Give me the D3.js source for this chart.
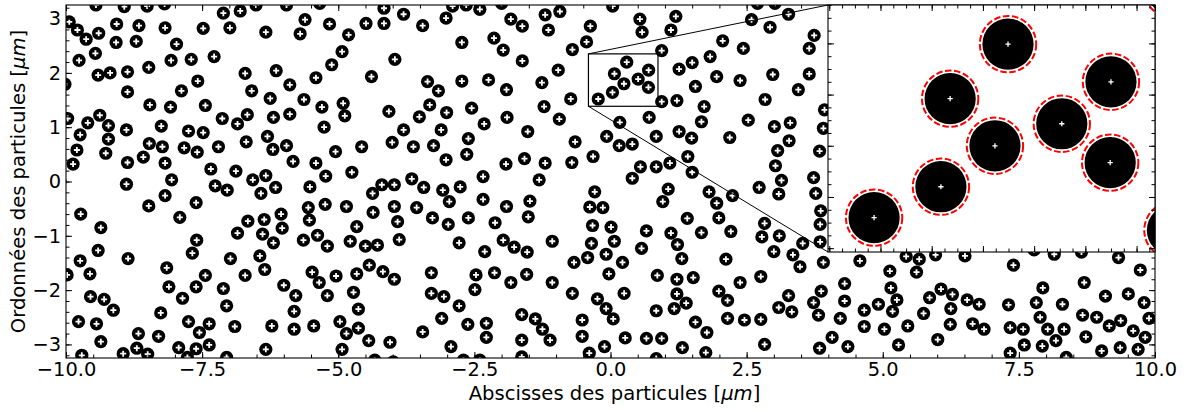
<!DOCTYPE html>
<html>
<head>
<meta charset="utf-8">
<script src="https://cdn.jsdelivr.net/npm/d3@7"></script>
<style>
  body{margin:0;background:#fff;}
  text{font-family:"DejaVu Sans",sans-serif;}
</style>
</head>
<body>
<div id="chart"></div>
<script>
// particle centres [x, y] in µm
const particles = [
 [-9.45,3.25],[-8.93,3.22],[-8.51,3.23],[-8.19,3.27],[-7.11,3.10],[-6.80,3.14],[-9.94,2.94],[-9.79,2.79],
 [-9.63,2.62],[-9.40,2.73],[-9.07,2.90],[-8.66,2.87],[-8.18,2.83],[-7.48,2.82],[-6.99,2.83],[-9.08,2.56],
 [-8.71,2.58],[-7.97,2.53],[-9.46,2.36],[-9.76,2.23],[-8.07,2.23],[-7.70,2.25],[-7.28,2.30],[-10.02,1.79],
 [-9.41,1.96],[-9.19,2.00],[-8.87,2.02],[-8.48,2.10],[-7.58,1.85],[-8.87,1.65],[-7.88,1.67],[-8.46,1.41],
 [-8.08,1.37],[-7.44,1.40],[-9.97,1.16],[-9.38,1.22],[-9.60,1.08],[-9.22,1.03],[-9.74,0.86],[-8.89,0.95],
 [-8.25,1.02],[-7.75,0.93],[-7.48,0.90],[-7.13,1.16],[-6.85,1.06],[-9.22,0.78],[-9.80,0.58],[-9.27,0.52],
 [-8.47,0.70],[-8.23,0.64],[-7.83,0.62],[-7.59,0.54],[-7.20,0.64],[-9.87,0.32],[-8.87,0.35],[-8.58,0.45],
 [-8.18,0.34],[-7.34,0.23],[-6.88,0.19],
 [-6.51,3.25],[-5.95,3.25],[-5.34,3.28],[-4.16,3.19],[-3.80,3.08],[-5.61,2.98],[-5.16,2.90],[-4.49,2.91],
 [-4.16,2.91],[-6.33,2.75],[-5.70,2.72],[-4.81,2.70],[-4.93,2.39],[-3.96,2.25],[-5.12,2.15],[-6.71,1.99],
 [-6.14,2.04],[-5.41,1.91],[-4.39,1.93],[-6.59,1.67],[-5.89,1.78],[-6.25,1.53],[-5.63,1.51],[-5.30,1.37],
 [-4.91,1.44],[-4.88,1.21],[-4.07,1.29],[-3.51,1.19],[-6.67,1.23],[-6.19,1.18],[-5.89,1.24],[-5.26,1.00],
 [-3.80,0.95],[-6.69,0.73],[-6.30,0.83],[-6.20,0.59],[-5.95,0.66],[-5.05,0.55],[-4.57,0.64],[-4.01,0.72],
 [-3.62,0.64],[-5.83,0.37],[-5.41,0.34],[-6.33,0.11],[-5.23,0.10],[-4.75,0.17],[-3.65,0.05],
 [-2.90,3.23],[-2.65,3.25],[-2.40,3.17],[-2.00,3.28],[-3.02,3.01],[-3.45,2.87],[-1.83,2.99],[-1.62,2.86],
 [-1.20,3.07],[-0.93,3.13],[-1.14,2.79],[-0.37,2.86],[-2.73,2.56],[-2.14,2.64],[-1.97,2.42],[-1.62,2.22],
 [-0.70,2.43],[-0.44,2.57],[-0.96,2.05],[-3.36,1.84],[-3.16,1.67],[-2.73,1.85],[-2.24,1.87],[-1.91,1.69],
 [-1.26,1.82],[-3.32,1.41],[-3.01,1.27],[-2.55,1.35],[-1.90,1.18],[-2.32,1.06],[-1.22,1.38],[-0.73,1.52],
 [-0.94,1.15],[-3.11,0.95],[-3.25,0.66],[-2.61,0.79],[-1.52,0.92],[-0.65,0.73],[-3.02,0.40],[-2.64,0.50],
 [-1.92,0.32],[-1.58,0.42],[-1.20,0.34],[-0.71,0.35],[-0.32,0.46],[-2.34,0.09],[-1.31,0.03],
 [0.298,2.197],[0.072,1.984],[0.247,1.800],[0.508,1.886],[0.700,2.050],[0.697,1.734],[0.036,1.640],[-0.225,1.519],
 [0.04,3.23],[0.54,2.99],[1.20,3.04],[0.58,2.75],[1.11,2.79],[2.59,2.98],[2.93,2.84],[2.70,3.28],
 [3.02,3.28],[0.94,2.41],[2.06,2.59],[2.44,2.45],[1.50,2.19],[1.83,2.30],[1.26,2.07],[1.95,1.93],
 [2.38,1.86],[2.98,1.97],[1.56,1.75],[0.94,1.47],[1.22,1.49],[2.84,1.51],[1.72,1.38],[0.71,1.18],
 [0.17,1.09],[1.67,1.10],[2.53,1.13],[3.01,1.01],[-0.07,0.83],[0.16,0.66],[0.40,0.69],[0.84,0.83],
 [1.26,0.92],[1.49,0.80],[2.19,0.81],[3.07,0.57],[1.42,0.46],[0.55,0.27],[0.84,0.27],[1.09,0.34],
 [0.40,0.06],[1.50,0.17],[3.03,0.29],
 [3.27,3.08],[3.74,2.69],[3.65,2.45],[3.65,1.98],[3.45,1.69],[3.93,1.32],[3.91,0.98],[3.30,1.08],
 [3.28,0.75],[3.84,0.56],[3.73,0.07],
 [-10.11,0.00],[-8.89,-0.05],[-8.06,0.03],[-7.26,-0.08],[-7.04,-0.16],[-9.73,-0.60],[-8.48,-0.45],[-8.18,-0.26],
 [-7.61,-0.39],[-7.91,-0.66],[-9.36,-0.85],[-6.85,-0.95],[-7.60,-1.08],[-9.41,-1.27],[-9.74,-1.46],[-8.86,-1.42],
 [-7.68,-1.32],[-6.98,-1.42],[-9.98,-1.72],[-9.56,-1.70],[-8.15,-1.59],[-7.44,-1.73],[-8.11,-1.94],[-7.61,-1.94],
 [-7.11,-1.97],[-9.55,-2.12],[-9.30,-2.17],[-9.13,-2.37],[-7.86,-2.15],[-7.05,-2.29],[-8.26,-2.42],[-9.77,-2.58],
 [-9.44,-2.62],[-7.75,-2.58],[-7.37,-2.62],[-6.90,-2.67],[-7.55,-2.78],[-10.11,-2.84],[-9.36,-2.95],[-8.67,-2.80],
 [-8.30,-2.85],[-7.37,-3.01],[-9.71,-3.20],[-8.95,-3.17],[-8.70,-3.07],[-8.50,-3.18],[-7.93,-3.06],[-7.61,-3.08],
 [-7.77,-3.24],[-7.05,-3.24],
 [-6.57,0.03],[-6.42,-0.22],[-6.15,-0.11],[-5.52,-0.10],[-4.20,-0.06],[-3.97,-0.06],[-4.37,-0.22],[-5.55,-0.48],
 [-5.24,-0.42],[-4.85,-0.46],[-4.36,-0.57],[-3.97,-0.46],[-3.56,-0.48],[-6.66,-0.73],[-6.36,-0.70],[-6.05,-0.60],
 [-6.39,-0.97],[-6.03,-0.86],[-5.53,-0.71],[-4.66,-0.83],[-3.91,-0.74],[-6.19,-1.13],[-5.64,-1.08],[-5.38,-0.99],
 [-5.20,-1.19],[-4.78,-1.10],[-4.50,-1.19],[-4.28,-1.17],[-3.88,-1.07],[-6.44,-1.37],[-6.35,-1.62],[-6.71,-1.73],
 [-5.48,-1.67],[-5.35,-1.86],[-5.04,-1.74],[-4.66,-1.70],[-4.43,-1.54],[-4.18,-1.66],[-3.97,-1.80],[-6.00,-1.91],
 [-5.78,-2.10],[-5.20,-2.10],[-4.72,-2.04],[-5.81,-2.39],[-4.63,-2.35],[-6.22,-2.66],[-5.81,-2.72],[-5.45,-2.66],
 [-4.97,-2.58],[-4.85,-2.80],[-4.63,-2.70],[-4.44,-2.93],[-4.05,-2.96],[-6.33,-3.09],[-4.93,-3.09],[-4.33,-3.29],
 [-3.99,-3.32],
 [-3.43,-0.11],[-3.08,-0.16],[-2.76,-0.10],[-0.29,-0.19],[-2.96,-0.37],[-2.34,-0.33],[-1.91,-0.46],[-1.48,-0.36],
 [-1.51,-0.65],[-0.38,-0.47],[-3.27,-0.67],[-2.98,-0.79],[-2.61,-0.67],[-2.12,-0.76],[-0.33,-0.81],[-2.78,-1.13],
 [-2.31,-1.29],[-1.97,-1.08],[-1.77,-1.21],[-1.53,-1.30],[-1.07,-1.10],[-0.35,-1.14],[-0.67,-1.49],[-0.42,-1.40],
 [-3.29,-1.68],[-2.47,-1.72],[-2.13,-1.68],[-1.54,-1.71],[-1.83,-1.86],[-1.07,-1.86],[-3.29,-2.06],[-3.06,-2.12],
 [-2.49,-1.99],[-2.78,-2.29],[-0.70,-2.06],[-0.24,-2.16],[-3.10,-2.52],[-2.62,-2.63],[-2.28,-2.61],[-1.63,-2.45],
 [-1.38,-2.53],[-1.25,-2.72],[-0.52,-2.55],[-3.45,-2.77],[-2.28,-2.87],[-1.63,-2.92],[-1.11,-2.92],[-0.52,-2.85],
 [-2.93,-3.04],[-2.70,-3.29],[-2.40,-3.29],[-1.63,-3.23],[-0.39,-3.16],
 [-0.14,-0.48],[1.06,-0.14],[0.96,-0.37],[1.81,-0.19],[1.95,-0.40],[2.24,-0.26],[2.73,-0.11],[3.09,-0.23],
 [0.01,-0.84],[0.07,-1.10],[0.66,-0.91],[1.41,-0.68],[1.11,-0.95],[1.23,-1.16],[1.67,-0.94],[1.99,-0.67],
 [2.21,-0.92],[2.83,-0.77],[2.78,-1.02],[3.10,-1.00],[-0.08,-1.34],[0.22,-1.49],[0.57,-1.23],[1.31,-1.42],
 [2.12,-1.43],[3.00,-1.29],[-0.03,-1.70],[0.86,-1.73],[1.22,-1.80],[1.52,-1.77],[2.38,-1.86],[2.76,-1.75],
 [0.25,-2.06],[-0.08,-2.34],[0.05,-2.53],[0.84,-2.38],[1.17,-2.34],[1.22,-2.07],[1.39,-2.24],[1.99,-2.02],
 [2.15,-2.19],[3.09,-2.32],[1.56,-2.59],[1.77,-2.78],[2.15,-2.52],[2.46,-2.55],[2.76,-2.54],[-0.11,-3.04],
 [0.27,-2.88],[0.66,-2.89],[0.94,-2.89],[1.32,-3.06],[1.75,-3.15],[2.83,-3.00],[0.84,-3.26],
 [3.14,0.02],[3.77,-0.22],[3.86,-0.54],[3.85,-0.79],[3.85,-1.11],[3.53,-1.14],[3.35,-1.35],[3.48,-1.57],
 [3.91,-1.49],[4.58,-1.46],[5.43,-1.38],[5.67,-1.43],[5.97,-1.35],[6.51,-1.37],[5.13,-1.65],[5.62,-1.67],
 [4.30,-1.88],[3.87,-2.02],[3.27,-2.10],[3.73,-2.23],[4.30,-2.20],[3.33,-2.40],[3.82,-2.46],[4.22,-2.52],
 [4.66,-2.37],[4.92,-2.26],[5.15,-1.96],[5.26,-2.18],[5.18,-2.39],[5.86,-2.14],[6.07,-1.98],[6.28,-2.08],
 [6.25,-2.34],[5.75,-2.43],[4.66,-2.67],[5.03,-2.72],[5.46,-2.66],[6.24,-2.63],[4.07,-2.87],[3.84,-3.07],
 [4.36,-3.04],[5.29,-3.01],[6.01,-2.91],
 [7.40,-1.54],[7.78,-1.26],[8.15,-1.34],[8.65,-1.30],[9.33,-1.40],[9.73,-1.63],[7.94,-1.96],[8.70,-1.86],
 [6.55,-2.18],[6.77,-2.26],[7.31,-2.27],[7.82,-2.23],[8.30,-2.26],[9.09,-2.11],[9.51,-2.07],[9.80,-2.23],
 [6.65,-2.62],[6.86,-2.72],[7.34,-2.69],[7.58,-2.72],[7.89,-2.50],[8.03,-2.72],[8.33,-2.72],[8.67,-2.46],
 [8.93,-2.50],[9.16,-2.66],[9.37,-2.56],[9.60,-2.75],[9.89,-2.52],[9.82,-2.87],[8.18,-2.93],[7.60,-3.01],
 [7.93,-3.03],[8.73,-2.86],[9.02,-3.12],[9.36,-3.06],[9.69,-3.09],[7.34,-3.16],[8.37,-3.24]
];

const xLim = [-10, 10];
const yLim = [-3.25, 3.25];
const xTicks = [-10, -7.5, -5, -2.5, 0, 2.5, 5, 7.5, 10];
const yTicks = [-3, -2, -1, 0, 1, 2, 3];
// zoomed window shown in the inset
const zoomX = [-0.405, 0.872];
const zoomY = [1.385, 2.35];
const zoomTicks = [-0.4, -0.2, 0, 0.2, 0.4, 0.6, 0.8];
const zoomYTicks = [1.4, 1.6, 1.8, 2.0, 2.2];
const radius = 0.1;      // particle radius, µm
const rOutline = 0.11;   // dashed outline radius, µm

const W = 1184, H = 412;
const box = {l: 66, r: 1155, t: 5, b: 358};
const ibox = {l: 828, r: 1155, t: 5, b: 252};

const svg = d3.select("#chart").append("svg").attr("width", W).attr("height", H);
const defs = svg.append("defs");
defs.append("clipPath").attr("id", "clipMain").append("rect")
    .attr("x", box.l).attr("y", box.t).attr("width", box.r - box.l).attr("height", box.b - box.t);
defs.append("clipPath").attr("id", "clipInset").append("rect")
    .attr("x", ibox.l).attr("y", ibox.t).attr("width", ibox.r - ibox.l).attr("height", ibox.b - ibox.t);

const x = d3.scaleLinear().domain(xLim).range([box.l, box.r]);
const y = d3.scaleLinear().domain(yLim).range([box.b, box.t]);

// particles in the main axes
const gMain = svg.append("g").attr("clip-path", "url(#clipMain)");
gMain.selectAll("circle").data(particles).join("circle")
    .attr("cx", d => x(d[0])).attr("cy", d => y(d[1])).attr("r", 6.6).attr("fill", "black");
gMain.selectAll("path").data(particles).join("path")
    .attr("d", d => "M" + (x(d[0]) - 3) + "," + y(d[1]) + "h6M" + x(d[0]) + "," + (y(d[1]) - 3) + "v6")
    .attr("stroke", "white").attr("stroke-width", 1.8);

// ticks pointing inward on the four sides
function frameTicks(g, sx, sy, b, major, minor, yMajor, yMinor, labels) {
    const L = 6, l = 3.5;
    const add = (axis, tr) => {
        const a = g.append("g").attr("transform", tr).call(axis);
        a.select(".domain").remove();
        return a;
    };
    const fmtX = labels ? d3.format(".1f") : () => "";
    const fmtY = labels ? d3.format("d") : () => "";
    add(d3.axisBottom(sx).tickValues(minor).tickSize(-l).tickFormat(""), "translate(0," + b.b + ")");
    add(d3.axisTop(sx).tickValues(minor).tickSize(-l).tickFormat(""), "translate(0," + b.t + ")");
    add(d3.axisLeft(sy).tickValues(yMinor).tickSize(-l).tickFormat(""), "translate(" + b.l + ",0)");
    add(d3.axisRight(sy).tickValues(yMinor).tickSize(-l).tickFormat(""), "translate(" + b.r + ",0)");
    add(d3.axisBottom(sx).tickValues(major).tickSize(-L).tickPadding(4).tickFormat(fmtX), "translate(0," + b.b + ")");
    add(d3.axisTop(sx).tickValues(major).tickSize(-L).tickFormat(""), "translate(0," + b.t + ")");
    add(d3.axisLeft(sy).tickValues(yMajor).tickSize(-L).tickPadding(5).tickFormat(fmtY), "translate(" + b.l + ",0)");
    add(d3.axisRight(sy).tickValues(yMajor).tickSize(-L).tickFormat(""), "translate(" + b.r + ",0)");
    g.selectAll(".tick line").attr("stroke", "black").attr("stroke-width", 1);
    g.selectAll("text").attr("font-family", "DejaVu Sans").attr("font-size", 19.4).attr("fill", "black");
    g.append("rect").attr("x", b.l).attr("y", b.t).attr("width", b.r - b.l).attr("height", b.b - b.t)
        .attr("fill", "none").attr("stroke", "black").attr("stroke-width", 1.1);
}

const xMinor = d3.range(xLim[0], xLim[1] + 1e-9, 0.5);
const yMinor = d3.range(-3.2, 3.25, 0.2);
frameTicks(svg.append("g"), x, y, box, xTicks, xMinor, yTicks, yMinor, true);

// axis titles
const xl = svg.append("text").attr("x", (box.l + box.r) / 2 + 4).attr("y", 400)
    .attr("text-anchor", "middle").attr("font-size", 19.6);
xl.append("tspan").text("Abscisses des particules [");
xl.append("tspan").attr("font-style", "italic").text("μm");
xl.append("tspan").text("]");
const yl = svg.append("text").attr("transform", "translate(25," + (box.t + box.b) / 2 + ") rotate(-90)")
    .attr("text-anchor", "middle").attr("font-size", 19.6);
yl.append("tspan").text("Ordonnées des particules [");
yl.append("tspan").attr("font-style", "italic").text("μm");
yl.append("tspan").text("]");

// zoom marker: rectangle and connectors
const zx0 = x(zoomX[0]), zx1 = x(zoomX[1]), zy0 = y(zoomY[1]), zy1 = y(zoomY[0]);
svg.append("rect").attr("x", zx0).attr("y", zy0).attr("width", zx1 - zx0).attr("height", zy1 - zy0)
    .attr("fill", "none").attr("stroke", "black").attr("stroke-width", 1.2);
svg.append("line").attr("x1", zx0).attr("y1", zy0).attr("x2", ibox.l).attr("y2", ibox.t)
    .attr("stroke", "black").attr("stroke-width", 1);
svg.append("line").attr("x1", zx0).attr("y1", zy1).attr("x2", ibox.l).attr("y2", ibox.b)
    .attr("stroke", "black").attr("stroke-width", 1);

// inset
const ix = d3.scaleLinear().domain(zoomX).range([ibox.l, ibox.r]);
const iy = d3.scaleLinear().domain(zoomY).range([ibox.b, ibox.t]);
const k = ix(1) - ix(0);
const gIn = svg.append("g");
gIn.append("rect").attr("x", ibox.l).attr("y", ibox.t).attr("width", ibox.r - ibox.l)
    .attr("height", ibox.b - ibox.t).attr("fill", "white");
const gInC = gIn.append("g").attr("clip-path", "url(#clipInset)");
gInC.selectAll("circle.p").data(particles).join("circle").attr("class", "p")
    .attr("cx", d => ix(d[0])).attr("cy", d => iy(d[1])).attr("r", radius * k).attr("fill", "black");
gInC.selectAll("circle.o").data(particles).join("circle").attr("class", "o")
    .attr("cx", d => ix(d[0])).attr("cy", d => iy(d[1])).attr("r", rOutline * k)
    .attr("fill", "none").attr("stroke", "red").attr("stroke-width", 2).attr("stroke-dasharray", "6.5,2.6");
gInC.selectAll("path").data(particles).join("path")
    .attr("d", d => "M" + (ix(d[0]) - 2.6) + "," + iy(d[1]) + "h5.2M" + ix(d[0]) + "," + (iy(d[1]) - 2.6) + "v5.2")
    .attr("stroke", "white").attr("stroke-width", 1.3);
const zMinorX = d3.range(-0.4, zoomX[1], 0.05);
const zMinorY = d3.range(1.4, zoomY[1], 0.05);
frameTicks(gIn.append("g"), ix, iy, ibox, zoomTicks, zMinorX, zoomYTicks, zMinorY, false);
</script>
</body>
</html>
